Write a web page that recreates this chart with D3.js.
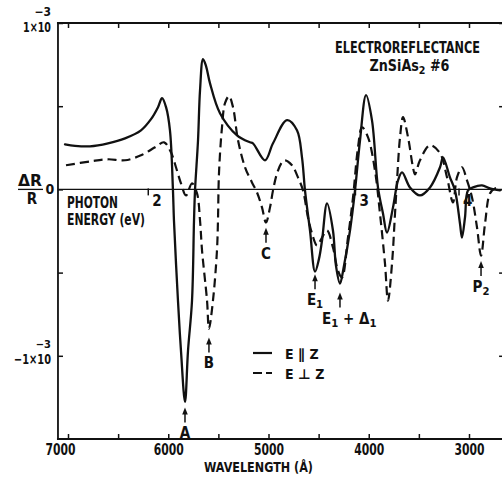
<!DOCTYPE html>
<html><head><meta charset="utf-8">
<script src="https://cdn.jsdelivr.net/npm/d3@7"></script>
<style>
html,body{margin:0;padding:0;background:#fff;}
svg{display:block;}
text{font-family:"Liberation Sans Narrow","DejaVu Sans Condensed","Roboto Condensed",sans-serif;font-weight:bold;fill:#111;}
</style></head><body>
<svg id="c" width="502" height="478"></svg>
<script>
// ---- data (wavelength in Å, ΔR/R in units of 1e-3) ----
const wavelengthTicks = [7000,6500,6000,5500,5000,4500,4000,3500,3000];
const wavelengthLabels = [7000,6000,5000,4000,3000];
const energyTicks = [2,3,4];
const valueTicks = [1,0.5,0,-0.5,-1];

const solidWavelength = [7030,6930,6781,6601,6431,6272,6172,6102,6062,6022,5983,5953,5943,5903,5873,5833,5803,5763,5743,5733,5703,5683,5653,5623,5584,5484,5314,5185,5155,5035,4955,4815,4716,4666,4636,4586,4536,4496,4466,4416,4357,4327,4287,4247,4187,4137,4087,4027,3968,3908,3858,3818,3758,3708,3668,3589,3489,3389,3289,3259,3190,3140,3090,3070,3040,3010,2960,2870,2791,2691];
const solidValue = [0.271,0.262,0.259,0.277,0.307,0.355,0.422,0.494,0.548,0.494,0.355,-0.006,-0.187,-0.669,-0.970,-1.277,-0.970,-0.669,-0.187,-0.006,0.295,0.596,0.783,0.741,0.639,0.458,0.325,0.283,0.277,0.175,0.277,0.416,0.355,0.193,-0.006,-0.247,-0.494,-0.416,-0.307,-0.084,-0.247,-0.458,-0.566,-0.458,-0.247,-0.006,0.295,0.566,0.416,0.012,-0.145,-0.259,-0.108,0.054,0.102,0.012,-0.036,0.012,0.133,0.193,0.072,-0.006,-0.205,-0.289,-0.169,-0.006,0.012,0.024,0.006,-0.006];

const dashedWavelength = [7020,6771,6601,6431,6272,6132,6042,5973,5923,5873,5823,5763,5713,5683,5663,5613,5594,5554,5514,5504,5494,5464,5434,5394,5354,5304,5234,5165,5115,5065,5025,4985,4955,4915,4865,4835,4766,4706,4656,4606,4566,4516,4466,4416,4357,4307,4267,4207,4157,4107,4067,4007,3938,3888,3838,3808,3768,3738,3718,3688,3658,3608,3559,3539,3489,3389,3289,3219,3160,3120,3070,3020,2970,2920,2880,2840,2791,2741,2691];
const dashedValue = [0.145,0.169,0.181,0.175,0.205,0.253,0.283,0.223,0.133,0.036,-0.036,0.036,-0.024,-0.187,-0.367,-0.669,-0.837,-0.669,-0.367,-0.187,0.096,0.373,0.518,0.560,0.494,0.295,0.133,0.042,-0.018,-0.108,-0.199,-0.108,-0.006,0.096,0.163,0.175,0.145,0.072,-0.006,-0.169,-0.265,-0.337,-0.289,-0.247,-0.349,-0.488,-0.530,-0.289,-0.048,0.253,0.373,0.313,0.114,-0.145,-0.446,-0.669,-0.446,-0.145,0.054,0.313,0.434,0.313,0.133,0.090,0.175,0.265,0.217,0.072,-0.078,0.072,0.133,0.054,-0.048,-0.229,-0.398,-0.205,-0.024,0.006,0.006];

const annoNames = ["A","B","C","E_1","E_1 + Δ_1","P_2"];
const annoWavelength = [5833,5594,5025,4536,4287,2880];
const annoValue = [-1.31,-0.89,-0.23,-0.51,-0.62,-0.43];

const legendNames = ["E ∥ Z","E ⊥ Z"];
const titleLines = ["ELECTROREFLECTANCE","ZnSiAs_2  #6"];

// ---- drawing ----
const svg = d3.select("#c");
const ink = "#111";
const x = d3.scaleLinear().domain([7000,3000]).range([68,469]);
const y = d3.scaleLinear().domain([-1.5,1]).range([439,23]);
const xL = x(7100), xR = x(2650), yT = y(1), yB = y(-1.5);

function richText(sel, s){
  const parts = s.split(/(_.)/).filter(p=>p);
  let inSub = false;
  parts.forEach(p=>{
    if(p[0]==="_"){
      sel.append("tspan").attr("font-size","0.75em").attr("dy","0.28em").text(p[1]);
      inSub = true;
    } else {
      sel.append("tspan").attr("dy", inSub ? "-0.21em" : null).text(p);
      inSub = false;
    }
  });
}
function symText(sel, s){
  s.split(/([∥⊥])/).filter(p=>p).forEach(p=>{
    const t = sel.append("tspan").text(p);
    if(p==="∥"||p==="⊥") t.attr("font-family","DejaVu Sans").attr("fill",ink);
  });
}
// squeeze a text horizontally to a target width (keeps it real text)
function squeeze(t, cx, by, width){
  const w = t.node().getComputedTextLength();
  const k = Math.min(1, width / w);
  t.attr("x",0).attr("y",0).attr("text-anchor","middle")
   .attr("transform",`translate(${cx},${by}) scale(${k},1)`);
}

// frame
const frame = svg.append("g").attr("stroke",ink).attr("stroke-width",1.8).attr("fill","none");
frame.append("line").attr("x1",xL).attr("x2",xL).attr("y1",yT-1).attr("y2",yB+1);
frame.append("line").attr("x1",xL-1).attr("x2",xR).attr("y1",yT).attr("y2",yT);
frame.append("line").attr("x1",xL-1).attr("x2",xR).attr("y1",yB).attr("y2",yB);
svg.append("line").attr("x1",xL).attr("x2",xR).attr("y1",y(0)).attr("y2",y(0))
  .attr("stroke",ink).attr("stroke-width",1.1);

// axes
function styleAxis(g){
  g.select(".domain").remove();
  g.selectAll(".tick line").attr("stroke",ink).attr("stroke-width",1.5);
  g.attr("font-family",null).attr("font-size",null);
}
svg.append("g").attr("transform",`translate(0,${yB})`)
  .call(d3.axisBottom(x).tickValues(wavelengthTicks).tickSize(-5).tickPadding(5)
        .tickFormat(d=>wavelengthLabels.includes(d)?d:""))
  .call(styleAxis)
  .call(g=>g.selectAll("text").attr("font-size",15).attr("fill",ink)
        .attr("textLength",d=>wavelengthLabels.includes(d)?30:null).attr("lengthAdjust","spacingAndGlyphs")
        .attr("dx",d=>d===7000?-8:0));
svg.append("g").attr("transform",`translate(0,${yT})`)
  .call(d3.axisTop(x).tickValues(wavelengthTicks).tickSize(-5).tickFormat(""))
  .call(styleAxis);
svg.append("g").attr("transform",`translate(${xL},0)`)
  .call(d3.axisLeft(y).tickValues(valueTicks).tickSize(-5).tickFormat(""))
  .call(styleAxis);
svg.append("g").attr("transform",`translate(${xR},0)`)
  .call(d3.axisRight(y).tickValues(valueTicks).tickSize(-5).tickFormat(""))
  .call(styleAxis);

// photon energy ticks on zero line
const eg = svg.append("g");
energyTicks.forEach(e=>{
  const xe = x(12398.4/e);
  eg.append("line").attr("x1",xe).attr("x2",xe).attr("y1",y(0)-1).attr("y2",y(0)+6)
    .attr("stroke",ink).attr("stroke-width",1.5);
  eg.append("text").attr("x",xe+4).attr("y",y(0)+17).attr("font-size",15).text(e);
});

// y labels
svg.append("text").attr("x",51).attr("y",y(1)+9).attr("text-anchor","end").attr("font-size",14)
  .attr("textLength",28).attr("lengthAdjust","spacingAndGlyphs").text("1×10");
svg.append("text").attr("x",51).attr("y",y(1)-7).attr("text-anchor","end").attr("font-size",12).text("−3");
svg.append("text").attr("x",51).attr("y",y(-1)+8.5).attr("text-anchor","end").attr("font-size",14)
  .attr("textLength",37).attr("lengthAdjust","spacingAndGlyphs").text("−1×10");
svg.append("text").attr("x",51).attr("y",y(-1)-8).attr("text-anchor","end").attr("font-size",11).text("−3");
svg.append("text").attr("x",50).attr("y",y(0)+5).attr("text-anchor","middle").attr("font-size",14).text("0");
svg.append("text").attr("x",30).attr("y",y(0)-3).attr("text-anchor","middle").attr("font-size",15)
  .attr("textLength",24).attr("lengthAdjust","spacingAndGlyphs").text("ΔR");
svg.append("line").attr("x1",18).attr("x2",43).attr("y1",y(0)).attr("y2",y(0)).attr("stroke",ink).attr("stroke-width",1.3);
svg.append("text").attr("x",32).attr("y",y(0)+15).attr("text-anchor","middle").attr("font-size",15).text("R");

// axis titles
svg.append("text").attr("x",67).attr("y",208).attr("font-size",15)
  .attr("textLength",51).attr("lengthAdjust","spacingAndGlyphs").text("PHOTON");
svg.append("text").attr("x",67).attr("y",225).attr("font-size",15)
  .attr("textLength",78).attr("lengthAdjust","spacingAndGlyphs").text("ENERGY (eV)");
svg.append("text").attr("x",204).attr("y",472).attr("font-size",14)
  .attr("textLength",109).attr("lengthAdjust","spacingAndGlyphs").text("WAVELENGTH (Å)");

// title
svg.append("text").attr("font-size",15).text(titleLines[0])
  .call(t=>squeeze(t,407.5,53,145));
svg.append("text").attr("font-size",15).call(t=>richText(t,titleLines[1]))
  .call(t=>squeeze(t,409.5,71,80));

// curves
const line = d3.line().curve(d3.curveCatmullRom.alpha(0.5));
const solidPts = solidWavelength.map((w,i)=>[x(w),y(solidValue[i])]);
const dashedPts = dashedWavelength.map((w,i)=>[x(w),y(dashedValue[i])]);
svg.append("path").attr("d",line(solidPts)).attr("fill","none").attr("stroke",ink)
  .attr("stroke-width",2.3).attr("stroke-linejoin","round").attr("stroke-linecap","round");
svg.append("path").attr("d",line(dashedPts)).attr("fill","none").attr("stroke",ink)
  .attr("stroke-width",2.2).attr("stroke-dasharray","9,5");

// annotations
const ag = svg.append("g");
annoNames.forEach((n,i)=>{
  const ax = x(annoWavelength[i]), ay = y(annoValue[i]);
  ag.append("line").attr("x1",ax).attr("x2",ax).attr("y1",ay+4).attr("y2",ay+15)
    .attr("stroke",ink).attr("stroke-width",1.5);
  ag.append("path").attr("d",`M${ax},${ay} L${ax-2.8},${ay+7} L${ax+2.8},${ay+7} Z`).attr("fill",ink);
  const wide = n.length > 4;
  const t = ag.append("text").attr("x",wide ? ax-18 : ax).attr("y",ay+31)
    .attr("text-anchor",wide ? "start" : "middle").attr("font-size",15);
  richText(t,n);
});

// legend
const lg = svg.append("g");
[0,1].forEach(i=>{
  const ly = 353 + i*20;
  lg.append("line").attr("x1",253).attr("x2",272).attr("y1",ly).attr("y2",ly)
    .attr("stroke",ink).attr("stroke-width",2.2).attr("stroke-dasharray",i?"9,4":null);
  lg.append("text").attr("x",285).attr("y",ly+6).attr("font-size",14)
    .call(t=>symText(t,legendNames[i]));
});
</script></body></html>
